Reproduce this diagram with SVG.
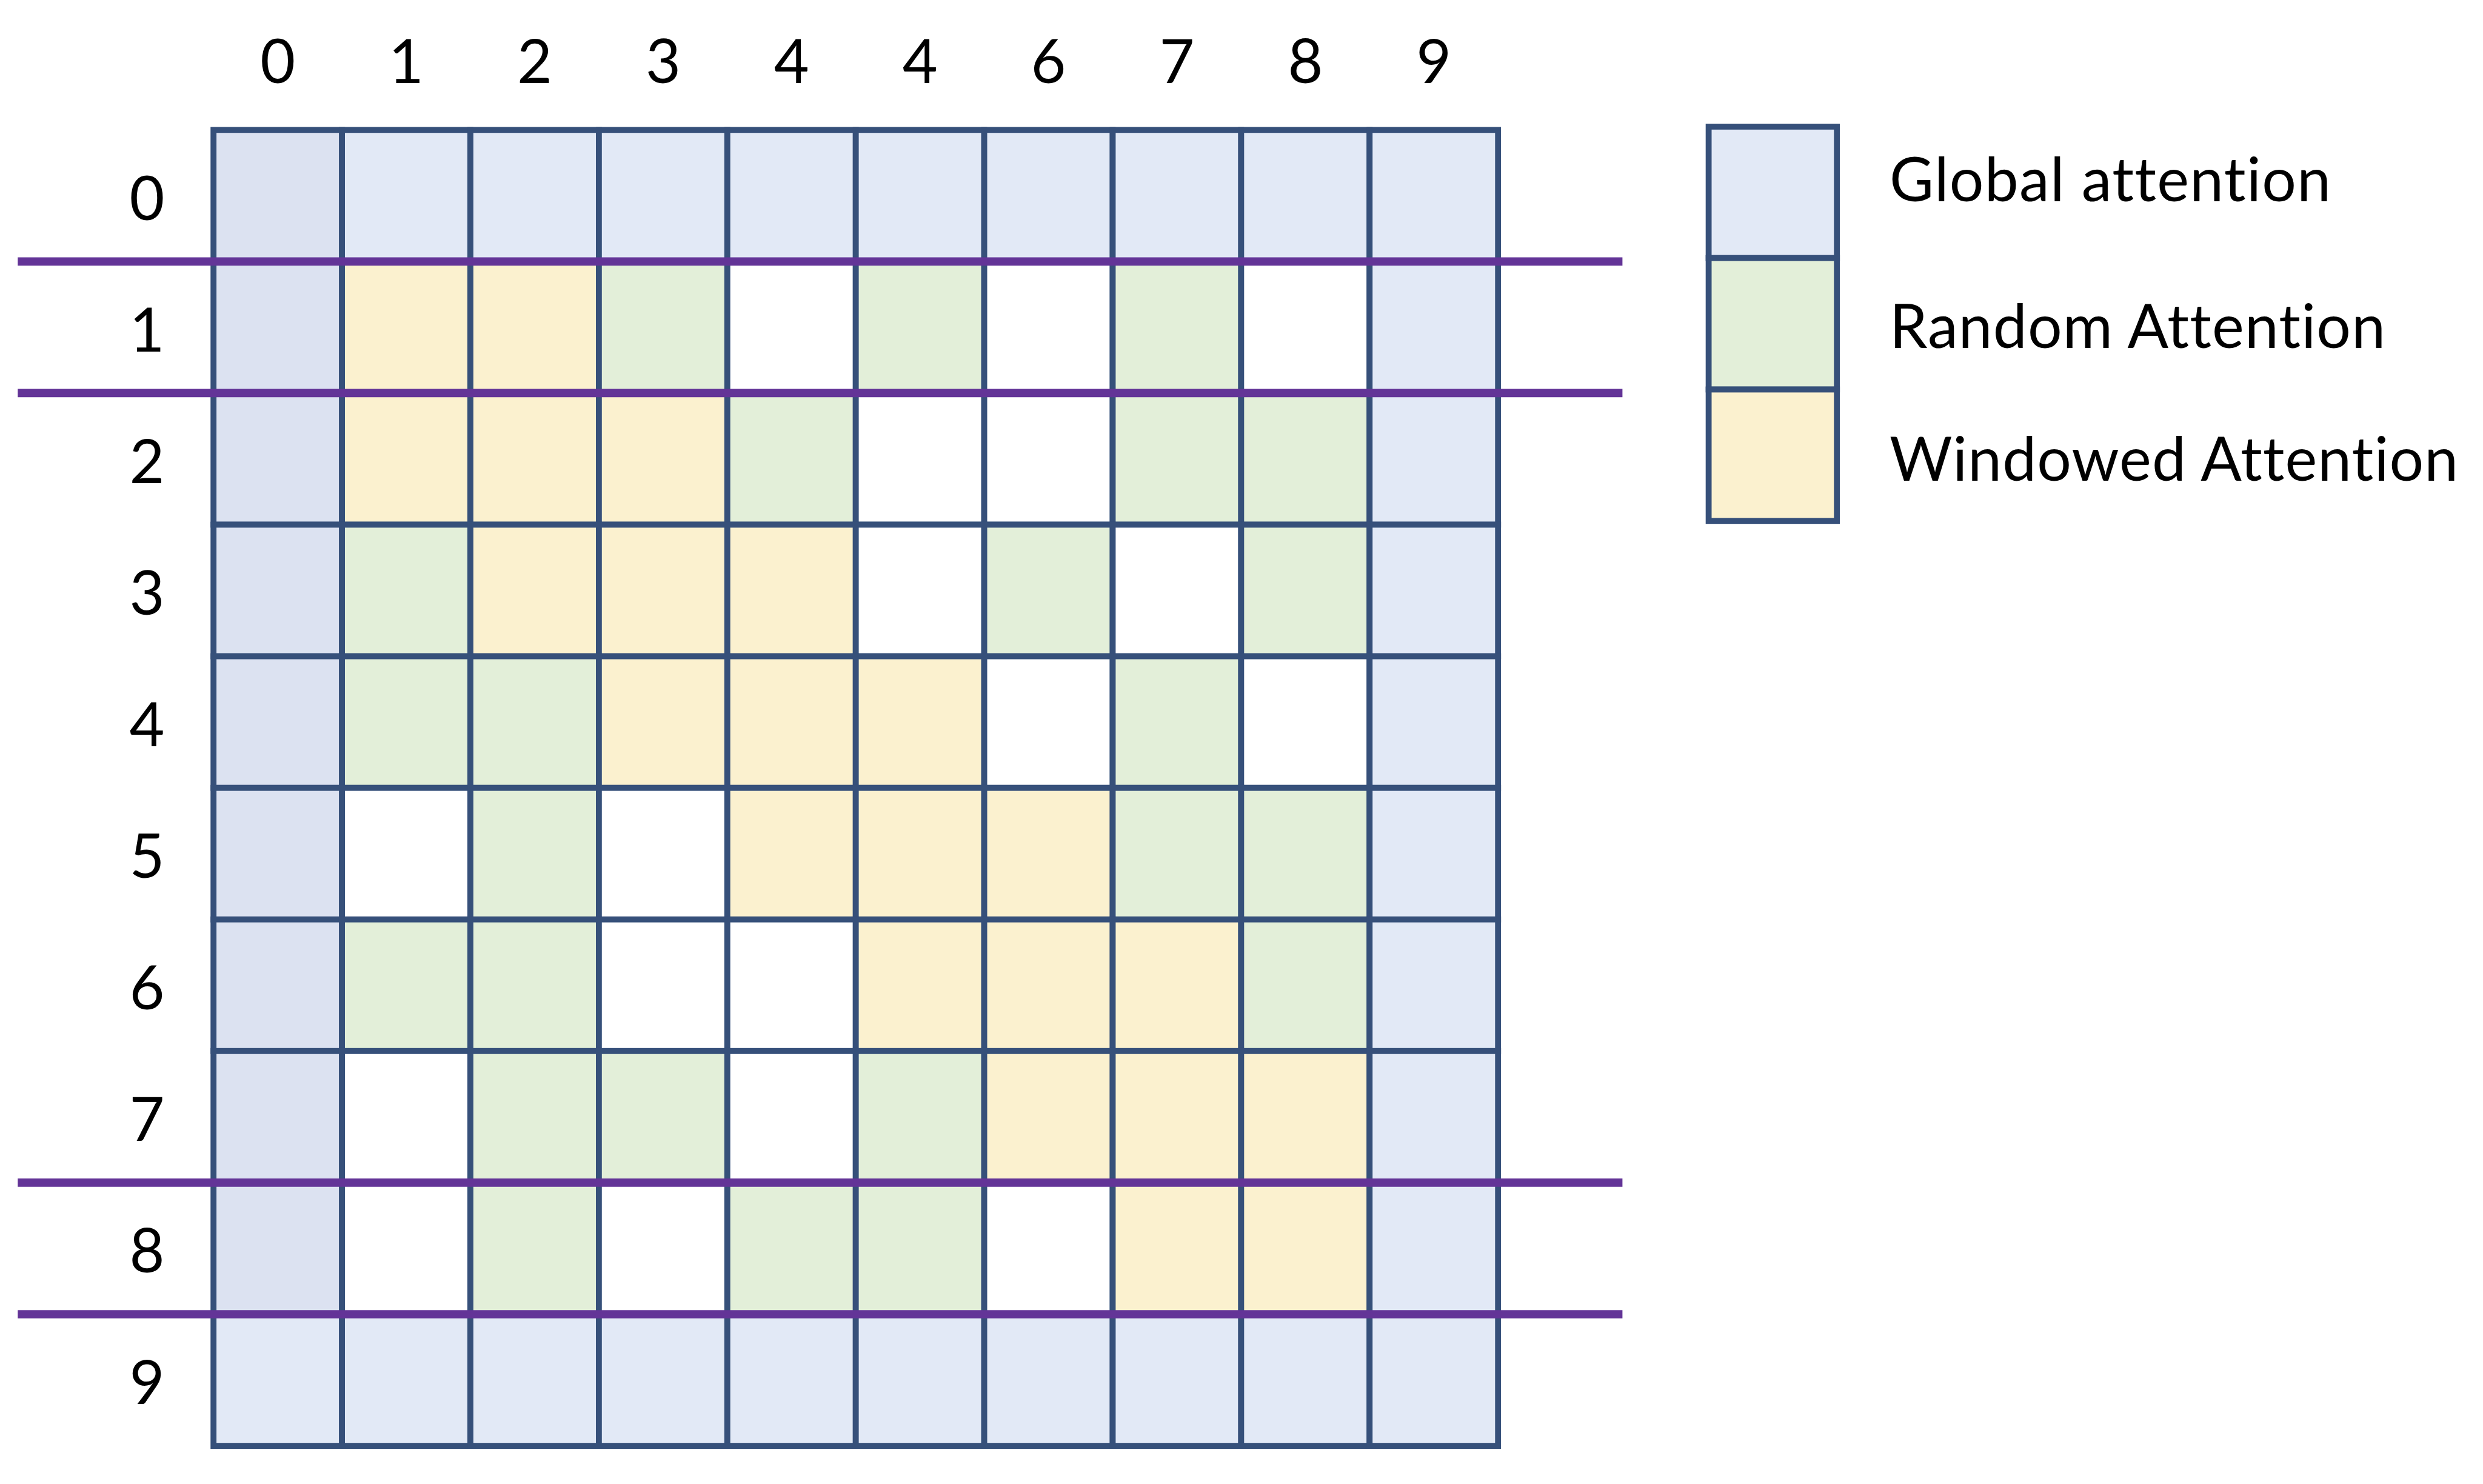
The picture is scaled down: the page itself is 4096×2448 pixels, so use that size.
<svg xmlns="http://www.w3.org/2000/svg" width="4096" height="2448" viewBox="0 0 4096 2448">
<style>
rect{stroke:#36507A;stroke-width:9.8}
.g{fill:#E2E9F6}.d{fill:#DCE2F1}.r{fill:#E3EFD9}.y{fill:#FBF1CF}.w{fill:#FFFFFF}
text{font-family:Lato,"Open Sans","Liberation Sans",sans-serif;font-size:100px;fill:#000;font-variant-ligatures:none;font-feature-settings:"liga" 0}
.n{text-anchor:middle}
.sep{stroke:#633497;stroke-width:13.6}
</style>
<rect x="0" y="0" width="4096" height="2448" style="fill:#fff;stroke:none"/>
<g id="col-labels">
<text class="n" x="458.2" y="136.8">0</text>
<text class="n" x="670.1" y="136.8">1</text>
<text class="n" x="882.0" y="136.8">2</text>
<text class="n" x="1093.9" y="136.8">3</text>
<text class="n" x="1305.8" y="136.8">4</text>
<text class="n" x="1517.7" y="136.8">4</text>
<text class="n" x="1729.6" y="136.8">6</text>
<text class="n" x="1941.5" y="136.8">7</text>
<text class="n" x="2153.4" y="136.8">8</text>
<text class="n" x="2365.3" y="136.8">9</text>
</g>
<g id="row-labels">
<text class="n" x="242.6" y="362.8">0</text>
<text class="n" x="242.6" y="579.9">1</text>
<text class="n" x="242.6" y="796.9">2</text>
<text class="n" x="242.6" y="1014.0">3</text>
<text class="n" x="242.6" y="1231.1">4</text>
<text class="n" x="242.6" y="1448.2">5</text>
<text class="n" x="242.6" y="1665.2">6</text>
<text class="n" x="242.6" y="1882.3">7</text>
<text class="n" x="242.6" y="2099.4">8</text>
<text class="n" x="242.6" y="2316.4">9</text>
</g>
<g id="grid">
<g id="row-0" transform="translate(0,214.3)">
<rect class="d" x="352.2" y="0" width="211.9" height="217.1"/><rect class="g" x="564.1" y="0" width="211.9" height="217.1"/><rect class="g" x="776.0" y="0" width="211.9" height="217.1"/><rect class="g" x="987.9" y="0" width="211.9" height="217.1"/><rect class="g" x="1199.8" y="0" width="211.9" height="217.1"/><rect class="g" x="1411.7" y="0" width="211.9" height="217.1"/><rect class="g" x="1623.6" y="0" width="211.9" height="217.1"/><rect class="g" x="1835.5" y="0" width="211.9" height="217.1"/><rect class="g" x="2047.4" y="0" width="211.9" height="217.1"/><rect class="g" x="2259.3" y="0" width="211.9" height="217.1"/>
</g>
<g id="row-1" transform="translate(0,431.4)">
<rect class="d" x="352.2" y="0" width="211.9" height="217.1"/><rect class="y" x="564.1" y="0" width="211.9" height="217.1"/><rect class="y" x="776.0" y="0" width="211.9" height="217.1"/><rect class="r" x="987.9" y="0" width="211.9" height="217.1"/><rect class="w" x="1199.8" y="0" width="211.9" height="217.1"/><rect class="r" x="1411.7" y="0" width="211.9" height="217.1"/><rect class="w" x="1623.6" y="0" width="211.9" height="217.1"/><rect class="r" x="1835.5" y="0" width="211.9" height="217.1"/><rect class="w" x="2047.4" y="0" width="211.9" height="217.1"/><rect class="g" x="2259.3" y="0" width="211.9" height="217.1"/>
</g>
<g id="row-2" transform="translate(0,648.4)">
<rect class="d" x="352.2" y="0" width="211.9" height="217.1"/><rect class="y" x="564.1" y="0" width="211.9" height="217.1"/><rect class="y" x="776.0" y="0" width="211.9" height="217.1"/><rect class="y" x="987.9" y="0" width="211.9" height="217.1"/><rect class="r" x="1199.8" y="0" width="211.9" height="217.1"/><rect class="w" x="1411.7" y="0" width="211.9" height="217.1"/><rect class="w" x="1623.6" y="0" width="211.9" height="217.1"/><rect class="r" x="1835.5" y="0" width="211.9" height="217.1"/><rect class="r" x="2047.4" y="0" width="211.9" height="217.1"/><rect class="g" x="2259.3" y="0" width="211.9" height="217.1"/>
</g>
<g id="row-3" transform="translate(0,865.5)">
<rect class="d" x="352.2" y="0" width="211.9" height="217.1"/><rect class="r" x="564.1" y="0" width="211.9" height="217.1"/><rect class="y" x="776.0" y="0" width="211.9" height="217.1"/><rect class="y" x="987.9" y="0" width="211.9" height="217.1"/><rect class="y" x="1199.8" y="0" width="211.9" height="217.1"/><rect class="w" x="1411.7" y="0" width="211.9" height="217.1"/><rect class="r" x="1623.6" y="0" width="211.9" height="217.1"/><rect class="w" x="1835.5" y="0" width="211.9" height="217.1"/><rect class="r" x="2047.4" y="0" width="211.9" height="217.1"/><rect class="g" x="2259.3" y="0" width="211.9" height="217.1"/>
</g>
<g id="row-4" transform="translate(0,1082.6)">
<rect class="d" x="352.2" y="0" width="211.9" height="217.1"/><rect class="r" x="564.1" y="0" width="211.9" height="217.1"/><rect class="r" x="776.0" y="0" width="211.9" height="217.1"/><rect class="y" x="987.9" y="0" width="211.9" height="217.1"/><rect class="y" x="1199.8" y="0" width="211.9" height="217.1"/><rect class="y" x="1411.7" y="0" width="211.9" height="217.1"/><rect class="w" x="1623.6" y="0" width="211.9" height="217.1"/><rect class="r" x="1835.5" y="0" width="211.9" height="217.1"/><rect class="w" x="2047.4" y="0" width="211.9" height="217.1"/><rect class="g" x="2259.3" y="0" width="211.9" height="217.1"/>
</g>
<g id="row-5" transform="translate(0,1299.7)">
<rect class="d" x="352.2" y="0" width="211.9" height="217.1"/><rect class="w" x="564.1" y="0" width="211.9" height="217.1"/><rect class="r" x="776.0" y="0" width="211.9" height="217.1"/><rect class="w" x="987.9" y="0" width="211.9" height="217.1"/><rect class="y" x="1199.8" y="0" width="211.9" height="217.1"/><rect class="y" x="1411.7" y="0" width="211.9" height="217.1"/><rect class="y" x="1623.6" y="0" width="211.9" height="217.1"/><rect class="r" x="1835.5" y="0" width="211.9" height="217.1"/><rect class="r" x="2047.4" y="0" width="211.9" height="217.1"/><rect class="g" x="2259.3" y="0" width="211.9" height="217.1"/>
</g>
<g id="row-6" transform="translate(0,1516.7)">
<rect class="d" x="352.2" y="0" width="211.9" height="217.1"/><rect class="r" x="564.1" y="0" width="211.9" height="217.1"/><rect class="r" x="776.0" y="0" width="211.9" height="217.1"/><rect class="w" x="987.9" y="0" width="211.9" height="217.1"/><rect class="w" x="1199.8" y="0" width="211.9" height="217.1"/><rect class="y" x="1411.7" y="0" width="211.9" height="217.1"/><rect class="y" x="1623.6" y="0" width="211.9" height="217.1"/><rect class="y" x="1835.5" y="0" width="211.9" height="217.1"/><rect class="r" x="2047.4" y="0" width="211.9" height="217.1"/><rect class="g" x="2259.3" y="0" width="211.9" height="217.1"/>
</g>
<g id="row-7" transform="translate(0,1733.8)">
<rect class="d" x="352.2" y="0" width="211.9" height="217.1"/><rect class="w" x="564.1" y="0" width="211.9" height="217.1"/><rect class="r" x="776.0" y="0" width="211.9" height="217.1"/><rect class="r" x="987.9" y="0" width="211.9" height="217.1"/><rect class="w" x="1199.8" y="0" width="211.9" height="217.1"/><rect class="r" x="1411.7" y="0" width="211.9" height="217.1"/><rect class="y" x="1623.6" y="0" width="211.9" height="217.1"/><rect class="y" x="1835.5" y="0" width="211.9" height="217.1"/><rect class="y" x="2047.4" y="0" width="211.9" height="217.1"/><rect class="g" x="2259.3" y="0" width="211.9" height="217.1"/>
</g>
<g id="row-8" transform="translate(0,1950.9)">
<rect class="d" x="352.2" y="0" width="211.9" height="217.1"/><rect class="w" x="564.1" y="0" width="211.9" height="217.1"/><rect class="r" x="776.0" y="0" width="211.9" height="217.1"/><rect class="w" x="987.9" y="0" width="211.9" height="217.1"/><rect class="r" x="1199.8" y="0" width="211.9" height="217.1"/><rect class="r" x="1411.7" y="0" width="211.9" height="217.1"/><rect class="w" x="1623.6" y="0" width="211.9" height="217.1"/><rect class="y" x="1835.5" y="0" width="211.9" height="217.1"/><rect class="y" x="2047.4" y="0" width="211.9" height="217.1"/><rect class="g" x="2259.3" y="0" width="211.9" height="217.1"/>
</g>
<g id="row-9" transform="translate(0,2168.0)">
<rect class="g" x="352.2" y="0" width="211.9" height="217.1"/><rect class="g" x="564.1" y="0" width="211.9" height="217.1"/><rect class="g" x="776.0" y="0" width="211.9" height="217.1"/><rect class="g" x="987.9" y="0" width="211.9" height="217.1"/><rect class="g" x="1199.8" y="0" width="211.9" height="217.1"/><rect class="g" x="1411.7" y="0" width="211.9" height="217.1"/><rect class="g" x="1623.6" y="0" width="211.9" height="217.1"/><rect class="g" x="1835.5" y="0" width="211.9" height="217.1"/><rect class="g" x="2047.4" y="0" width="211.9" height="217.1"/><rect class="g" x="2259.3" y="0" width="211.9" height="217.1"/>
</g>
</g>
<g id="separators">
<line class="sep" x1="29.3" y1="431.4" x2="2676.4" y2="431.4"/>
<line class="sep" x1="29.3" y1="648.4" x2="2676.4" y2="648.4"/>
<line class="sep" x1="29.3" y1="1950.9" x2="2676.4" y2="1950.9"/>
<line class="sep" x1="29.3" y1="2168.0" x2="2676.4" y2="2168.0"/>
</g>
<g id="legend">
<g id="legend-global">
<rect class="g" x="2818.6" y="208.9" width="211.6" height="216.8"/>
<text x="3117" y="331.5" textLength="728" lengthAdjust="spacing">Global attention</text>
</g>
<g id="legend-random">
<rect class="r" x="2818.6" y="425.7" width="211.6" height="216.8"/>
<text x="3117" y="573.9" textLength="818" lengthAdjust="spacing">Random Attention</text>
</g>
<g id="legend-windowed">
<rect class="y" x="2818.6" y="642.5" width="211.6" height="216.8"/>
<text x="3117" y="792.8" textLength="938" lengthAdjust="spacing">Windowed Attention</text>
</g>
</g>
</svg>
